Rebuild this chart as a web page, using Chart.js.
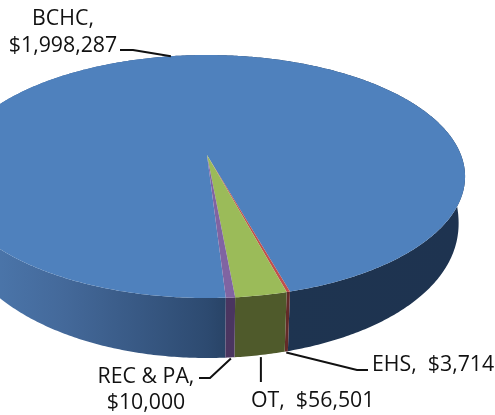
<!DOCTYPE html>
<html><head><meta charset="utf-8">
<style>html,body{margin:0;padding:0;background:#fff;overflow:hidden}canvas{display:block}</style>
<script src="https://cdn.jsdelivr.net/npm/chart.js@4"></script></head>
<body><canvas id="c" width="495" height="415"></canvas>
<script>
const categories = ["BCHC","EHS","OT","REC & PA"];
const seriesValues = [1998287,3714,56501,10000];
const valueLabels = ["$1,998,287","$3,714","$56,501","$10,000"];
const topColors = ["#4f81bd","#c0504d","#9bbb59","#8064a2"];
const wallColors = ["#2c4a70","#632a28","#4f5a2b","#4a3560"];

// perspective of the tilted disc
const apex = {x:207,y:155}, persp = 0.177, sx = 254, sy = 117.7;
const wall = {scale:0.975, drop:37, dropFront:60};
function top3d(a){
  const x=Math.cos(a), y=Math.sin(a), d=1-persp*y;
  return {x:apex.x+sx*x/d, y:apex.y+sy*y/d};
}
function bottom3d(a){
  const p=top3d(a), s=Math.max(0,Math.sin(a)), k=Math.cos(a)>0?Math.sqrt(s):s;
  return {x:apex.x+(p.x-apex.x)*wall.scale, y:p.y+wall.drop+(wall.dropFront-wall.drop)*k};
}
function band(ctx,a0,a1){
  const n=Math.max(4,Math.ceil(Math.abs(a1-a0)/0.01));
  ctx.beginPath();
  for(let i=0;i<=n;i++){const p=top3d(a0+(a1-a0)*i/n); i?ctx.lineTo(p.x,p.y):ctx.moveTo(p.x,p.y);}
  for(let i=n;i>=0;i--){const p=bottom3d(a0+(a1-a0)*i/n); ctx.lineTo(p.x,p.y);}
  ctx.closePath();
}
function face(ctx,a0,a1){
  const n=Math.max(4,Math.ceil(Math.abs(a1-a0)/0.01));
  ctx.beginPath(); ctx.moveTo(apex.x,apex.y);
  for(let i=0;i<=n;i++){const p=top3d(a0+(a1-a0)*i/n); ctx.lineTo(p.x,p.y);}
  ctx.closePath();
}
const pie3d = {
  id:'pie3d',
  beforeDatasetDraw(chart){
    const ctx=chart.ctx, arcs=chart.getDatasetMeta(0).data;
    const g=ctx.createLinearGradient(-50,0,465,0);
    g.addColorStop(0,"#4f7db4"); g.addColorStop(0.22,"#44699a"); g.addColorStop(0.5,"#2d4a70");
    g.addColorStop(0.62,"#1e3450"); g.addColorStop(1,"#1e3350");
    ctx.save();
    arcs.forEach((arc,i)=>{
      ctx.fillStyle = i===0 ? g : wallColors[i];
      band(ctx,arc.startAngle,arc.endAngle); ctx.fill();
    });
    arcs.forEach((arc,i)=>{
      ctx.fillStyle=topColors[i];
      face(ctx,arc.startAngle,arc.endAngle); ctx.fill();
    });
    ctx.strokeStyle="#111"; ctx.lineWidth=2; ctx.fillStyle="#111";
    ctx.font='21.3px "Open Sans"'; ctx.textBaseline="alphabetic"; ctx.textAlign="center";
    const mid=arcs.map(a=>(a.startAngle+a.endAngle)/2);
    const line=(pts)=>{ctx.beginPath();pts.forEach((p,i)=>i?ctx.lineTo(p[0],p[1]):ctx.moveTo(p[0],p[1]));ctx.stroke();};
    const t=top3d(mid[0]), e=bottom3d(mid[1]), o=bottom3d(mid[2]), r=bottom3d(mid[3]);
    line([[t.x,t.y],[133,50],[120,50]]);
    line([[e.x,e.y+1],[357,370],[368,370]]);
    line([[o.x+1,o.y+2],[o.x+1,382]]);
    line([[r.x+1,r.y+1],[210,378],[199,378]]);
    ctx.fillText(categories[0]+",",63,25);
    ctx.fillText(valueLabels[0],63,52);
    ctx.textAlign="left";
    ctx.fillText(categories[1]+",  "+valueLabels[1],372,371);
    ctx.fillText(categories[2]+",  "+valueLabels[2],251,407);
    ctx.textAlign="center";
    ctx.fillText(categories[3]+",",146,383);
    ctx.fillText(valueLabels[3],146,409);
    ctx.restore();
    return false;
  }
};
new Chart(document.getElementById('c'),{
  type:'pie',
  data:{labels:categories,datasets:[{data:seriesValues,backgroundColor:topColors,borderWidth:0}]},
  options:{responsive:false,animation:false,rotation:176.5,
    plugins:{legend:{display:false},tooltip:{enabled:false},title:{display:false}}},
  plugins:[pie3d]
});
</script></body></html>
